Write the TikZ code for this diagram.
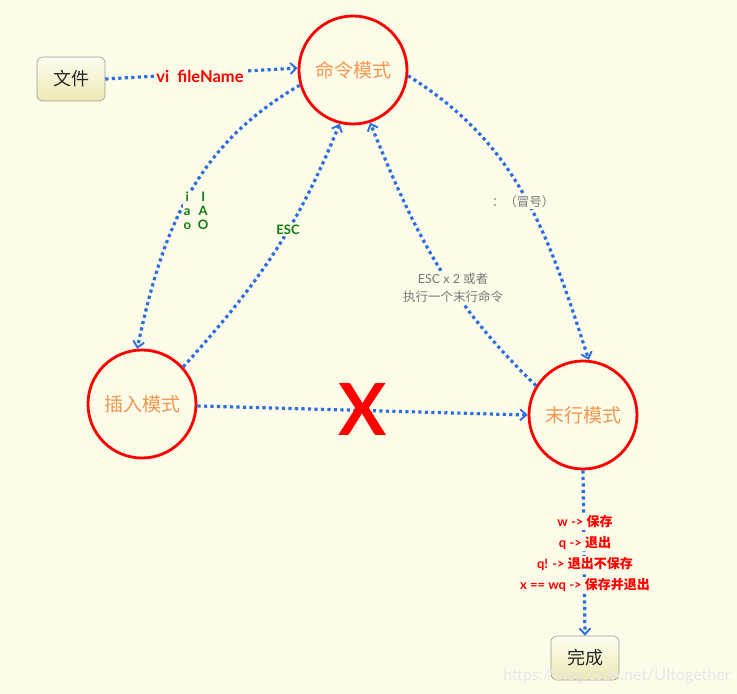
\documentclass[tikz,border=0pt]{standalone}
\usepackage{fontspec}
\setmainfont{Lato}
\newfontfamily\cjk{Noto Sans CJK SC}
\usetikzlibrary{arrows.meta}
\definecolor{bg}{RGB}{253,252,232}
\definecolor{lnk}{RGB}{45,110,225}
\definecolor{modec}{RGB}{245,150,80}
\definecolor{grn}{RGB}{15,125,15}
\definecolor{gry}{RGB}{120,120,120}
\definecolor{boxbot}{RGB}{238,232,178}
\tikzset{
  modecircle/.style={circle, draw=red, line width=2.8pt, minimum size=108pt, inner sep=0pt,
    text=modec, font=\fontsize{19}{22}\selectfont\cjk},
  endbox/.style={rectangle, rounded corners=6pt, draw=gray!80, line width=0.6pt,
    top color=bg!60!white, bottom color=boxbot, minimum width=68pt, minimum height=44pt,
    font=\fontsize{18}{21}\selectfont\cjk, text=black!85},
  link/.style={draw=lnk, line width=3.2pt, dash pattern=on 3.2pt off 3.3pt,
    -{Straight Barb[length=6pt,width=11pt,line width=1.9pt]}},
  lbl/.style={fill=bg, inner sep=1.5pt},
  redlbl/.style={lbl, text=red, font=\bfseries\fontsize{13}{15}\selectfont},
  grnlbl/.style={lbl, text=grn, font=\bfseries\fontsize{13}{15}\selectfont},
  grylbl/.style={lbl, text=gry, font=\fontsize{12.5}{15}\selectfont},
}
\begin{document}
\begin{tikzpicture}[x=1pt,y=1pt]
\fill[bg] (0,0) rectangle (737,694);
\useasboundingbox (0,0) rectangle (737,694);

\node[endbox] (file) at (71,615) {文件};
\node[modecircle] (cmd) at (353,624) {命令模式};
\node[modecircle] (ins) at (142,290) {插入模式};
\node[modecircle] (last) at (583,279) {末行模式};
\node[endbox] (done) at (585,36) {完成};

% connectors
\draw[link] (file.east) -- (cmd.178);
\draw[link] (cmd.196) to[out=210,in=78] (ins.95);
\draw[link] (ins.42) to[out=48,in=248] (cmd.256);
\draw[link] (cmd.354) to[out=-32,in=108] (last.84);
\draw[link] (last.148) to[out=136,in=-68] (cmd.288);
\draw[link] (ins.358) -- (last.180);
\draw[link] (last.south) -- (done.north);

% labels
\node[lbl, text=red, font=\bfseries\fontsize{16.5}{19}\selectfont] (lvi) at (200,618) {vi\ \ fileName};
\node[grnlbl, inner sep=0.5pt] (liao) at (196,481) {\begin{tabular}{@{}c@{\hspace{7pt}}c@{}}i & I\\[-1pt] a & A\\[-1pt] o & O\end{tabular}};
\node[grnlbl] (lesc) at (288,464) {ESC};
\node[grylbl] (lcolon) at (523,492) {\cjk ：（冒号）};
\node[grylbl, align=center] (lesc2) at (453,406) {ESC x 2 {\cjk 或者}\\[3pt]{\cjk 执行一个末行命令}};
\node[inner sep=0pt, text=red, font=\bfseries\fontsize{72}{72}\selectfont] (lx) at (363,285) {X};
\node[redlbl] (lw) at (585,172) {w -> {\cjk 保存}};
\node[redlbl] (lq) at (585,151) {q -> {\cjk 退出}};
\node[redlbl] (lqq) at (585,130) {q! -> {\cjk 退出不保存}};
\node[redlbl] (lx2) at (585,109) {x == wq -> {\cjk 保存并退出}};
\node[text=gray!18, font=\fontsize{16}{18}\selectfont] (wm) at (617,18) {https://blog.csdn.net/UItogether};
\end{tikzpicture}
\end{document}
